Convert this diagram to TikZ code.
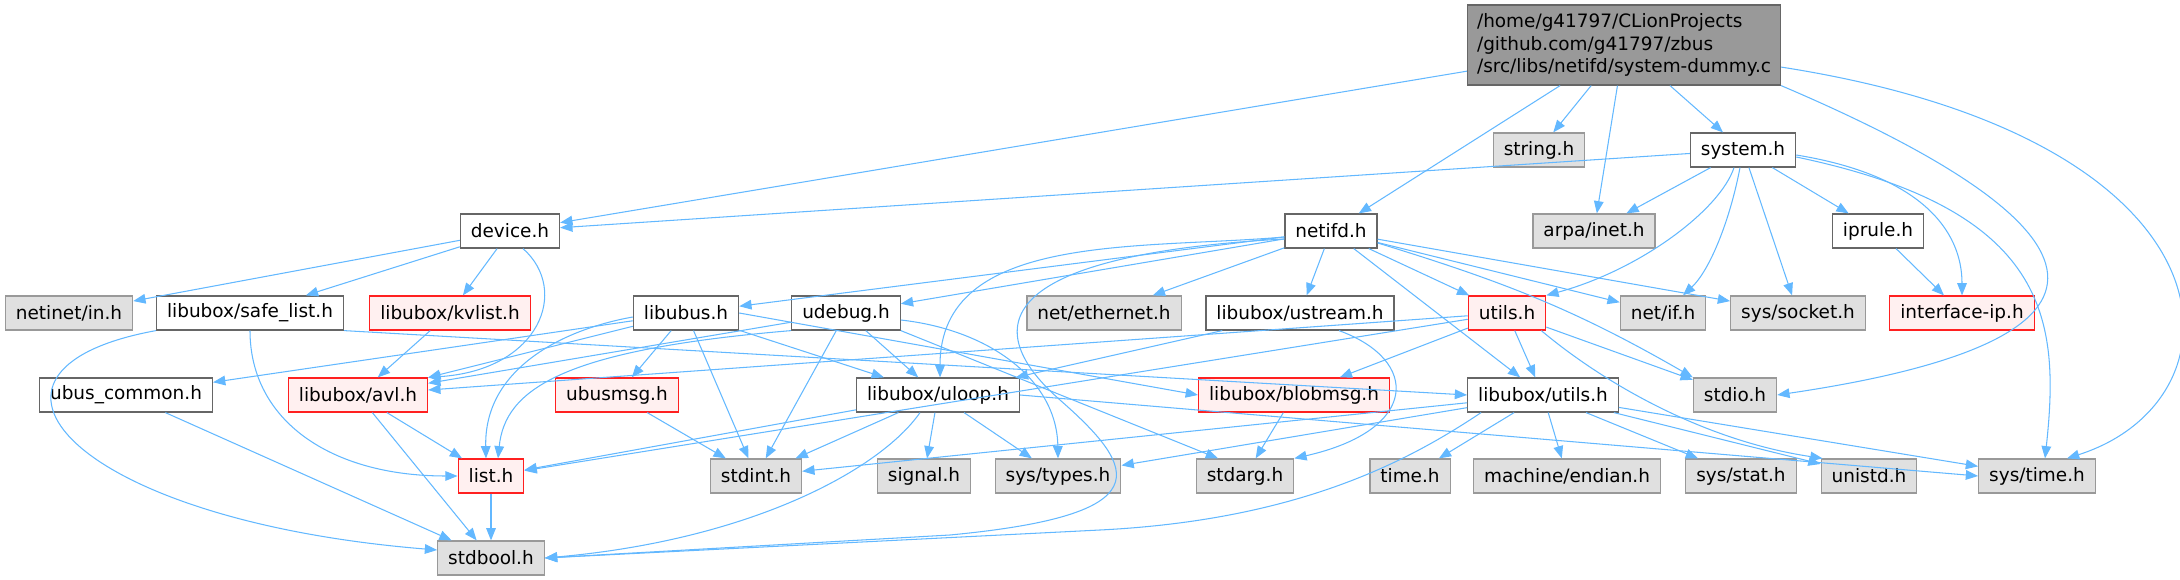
\documentclass[tikz,border=0pt]{standalone}
\usepackage{fontspec}
\setmainfont{DejaVu Sans}
\usetikzlibrary{arrows.meta,calc}

\definecolor{edgeblue}{HTML}{63B8FF}
\definecolor{boxgray}{HTML}{666666}
\definecolor{sysedge}{HTML}{999999}
\definecolor{sysfill}{HTML}{E0E0E0}
\definecolor{rededge}{HTML}{FF2020}
\definecolor{redfill}{HTML}{FFF0F0}
\definecolor{mainfill}{HTML}{999999}

\begin{document}
\begin{tikzpicture}[x=0.02cm,y=-0.02cm,
  font=\fontsize{10.5}{13}\selectfont,
  box/.style={draw=boxgray,fill=white,line width=0.7pt,minimum height=0.68cm,inner xsep=0.21cm,inner ysep=0pt},
  sysbox/.style={box,draw=sysedge,fill=sysfill},
  redbox/.style={box,draw=rededge,fill=redfill},
  mainbox/.style={box,fill=mainfill,align=left,minimum height=1.6cm,inner xsep=0.19cm},
  inc/.style={draw=edgeblue,line width=0.6pt,-{Triangle[length=7pt,width=5.5pt]}}]
  \useasboundingbox (0,0) rectangle (2180,580);

  \node[mainbox] (main) at (1624,45) {/home/g41797/CLionProjects\\/github.com/g41797/zbus\\/src/libs/netifd/system-dummy.c};
  \node[sysbox] (stringh) at (1539,150) {string.h};
  \node[box] (system) at (1743,150) {system.h};
  \node[box] (device) at (510,231) {device.h};
  \node[box] (netifd) at (1331,231) {netifd.h};
  \node[sysbox] (arpainet) at (1594,231) {arpa/inet.h};
  \node[box] (iprule) at (1878,231) {iprule.h};
  \node[sysbox] (netinet) at (69,313) {netinet/in.h};
  \node[box] (safelist) at (250,313) {libubox/safe\_list.h};
  \node[redbox] (kvlist) at (450,313) {libubox/kvlist.h};
  \node[box] (libubus) at (686,313) {libubus.h};
  \node[box] (udebug) at (846,313) {udebug.h};
  \node[sysbox] (neteth) at (1104,313) {net/ethernet.h};
  \node[box] (ustream) at (1300,313) {libubox/ustream.h};
  \node[redbox] (utils) at (1507,313) {utils.h};
  \node[sysbox] (netif) at (1663,313) {net/if.h};
  \node[sysbox] (syssocket) at (1798,313) {sys/socket.h};
  \node[redbox] (ifaceip) at (1962,313) {interface-ip.h};
  \node[box] (ubuscommon) at (126,395) {ubus\_common.h};
  \node[redbox] (avl) at (358,395) {libubox/avl.h};
  \node[redbox] (ubusmsg) at (617,395) {ubusmsg.h};
  \node[box] (uloop) at (938,395) {libubox/uloop.h};
  \node[redbox] (blobmsg) at (1294,395) {libubox/blobmsg.h};
  \node[box] (lutils) at (1543,395) {libubox/utils.h};
  \node[sysbox] (stdio) at (1735,395) {stdio.h};
  \node[redbox] (list) at (491,476) {list.h};
  \node[sysbox] (stdint) at (756,476) {stdint.h};
  \node[sysbox] (signal) at (924,476) {signal.h};
  \node[sysbox] (systypes) at (1058,476) {sys/types.h};
  \node[sysbox] (stdarg) at (1245,476) {stdarg.h};
  \node[sysbox] (timeh) at (1410,476) {time.h};
  \node[sysbox] (endian) at (1567,476) {machine/endian.h};
  \node[sysbox] (sysstat) at (1741,476) {sys/stat.h};
  \node[sysbox] (unistd) at (1869,476) {unistd.h};
  \node[sysbox] (systime) at (2037,476) {sys/time.h};
  \node[sysbox] (stdbool) at (491,558) {stdbool.h};

  \draw[inc] (main) -- (device);
  \draw[inc] (main) -- (netifd);
  \draw[inc] (main) -- (stringh);
  \draw[inc] (main) -- (arpainet);
  \draw[inc] (main) -- (system);
  \draw[inc] (main.south east) .. controls (2120,230) and (2150,340) .. (stdio.east);
  \draw[inc] (main.-8) .. controls (2250,140) and (2250,400) .. ($(systime.north)+(30,0)$);

  \draw[inc] (system) -- (device);
  \draw[inc] (system) -- (arpainet);
  \draw[inc] ($(system.south)+(-9,0)$) .. controls (1720,210) and (1640,270) .. (utils.north east);
  \draw[inc] ($(system.south)+(-3,0)$) .. controls (1730,220) and (1710,270) .. ($(netif.north)+(20,0)$);
  \draw[inc] (system) -- (syssocket);
  \draw[inc] (system) -- (iprule);
  \draw[inc] ($(system.east)+(0,5)$) .. controls (1920,175) and (1962,230) .. (ifaceip.north);
  \draw[inc] ($(system.east)+(0,7)$) .. controls (2050,210) and (2060,320) .. ($(systime.north)+(8,0)$);
  \draw[inc] (iprule) -- (ifaceip);

  \draw[inc] (netifd) -- (libubus);
  \draw[inc] (netifd) -- (udebug);
  \draw[inc] (netifd) -- (neteth);
  \draw[inc] (netifd) -- (ustream);
  \draw[inc] (netifd) -- (utils);
  \draw[inc] (netifd) -- (lutils);
  \draw[inc] (netifd) -- (netif);
  \draw[inc] (netifd) -- (syssocket);
  \draw[inc] ($(netifd.east)+(0,12)$) to[out=-17,in=150] (stdio.north west);
  \draw[inc] ($(netifd.west)+(0,6)$) to[out=185,in=90] ($(uloop.north)+(2,0)$);
  \draw[inc] ($(netifd.west)+(0,8)$) .. controls (990,255) and (980,330) .. (1060,400)
    .. controls (1140,470) and (1160,515) .. (950,535) -- (stdbool.east);

  \draw[inc] (device) -- (netinet);
  \draw[inc] (device) -- (safelist);
  \draw[inc] (device) -- (kvlist);
  \draw[inc] ($(device.south)+(13,0)$) .. controls (570,290) and (540,370) .. (avl.north east);

  \draw[inc] ($(safelist.south)+(0,0)$) .. controls (250,420) and (330,476) .. (list.west);
  \draw[inc] (safelist.south west) .. controls (-60,370) and (70,520) .. ($(stdbool.west)+(0,-8)$);
  \draw[inc] (safelist.south east) -- (lutils.west);
  \draw[inc] (kvlist) -- (avl);

  \draw[inc] (libubus) -- (ubuscommon);
  \draw[inc] (libubus) -- (avl);
  \draw[inc] ($(libubus.west)+(0,4)$) .. controls (560,330) and (484,370) .. ($(list.north)+(-5,0)$);
  \draw[inc] (libubus) -- (ubusmsg);
  \draw[inc] (libubus) -- (stdint);
  \draw[inc] (libubus) -- (uloop);
  \draw[inc] (libubus.east) -- (blobmsg.west);

  \draw[inc] (udebug) -- (avl);
  \draw[inc] (udebug.south west) .. controls (560,350) and (505,390) .. ($(list.north)+(7,0)$);
  \draw[inc] (udebug) -- (stdint);
  \draw[inc] (udebug) -- (uloop);
  \draw[inc] ($(udebug.east)+(0,7)$) .. controls (990,330) and (1057,380) .. (systypes.north);
  \draw[inc] (udebug.south east) -- ($(stdarg.north)+(-27,0)$);

  \draw[inc] (ubuscommon) -- (stdbool);
  \draw[inc] (avl) -- (list);
  \draw[inc] (avl) -- (stdbool);
  \draw[inc] (ubusmsg) -- (stdint);
  \draw[inc] (list) -- (stdbool);

  \draw[inc] (uloop) -- (list);
  \draw[inc] (uloop) -- (stdint);
  \draw[inc] (uloop) -- (signal);
  \draw[inc] (uloop) -- (systypes);
  \draw[inc] ($(uloop.south)+(-18,0)$) .. controls (880,470) and (750,540) .. (stdbool.east);
  \draw[inc] (uloop.east) -- (systime.west);

  \draw[inc] (ustream) -- (uloop);
  \draw[inc] ($(ustream.south)+(39,0)$) .. controls (1420,360) and (1420,430) .. (stdarg.north east);

  \draw[inc] (utils) -- (avl);
  \draw[inc] (utils) -- (list);
  \draw[inc] (utils) -- (blobmsg);
  \draw[inc] (utils) -- (lutils);
  \draw[inc] (utils) -- (stdio);
  \draw[inc] ($(utils.south east)+(-5,0)$) .. controls (1600,380) and (1700,440) .. ($(unistd.north west)+(2,0)$);

  \draw[inc] (blobmsg) -- (stdarg);

  \draw[inc] (lutils) -- (stdint);
  \draw[inc] (lutils) -- (systypes);
  \draw[inc] ($(lutils.south west)+(14,0)$) .. controls (1410,460) and (1300,520) .. (1100,530) -- (stdbool.east);
  \draw[inc] (lutils) -- (timeh);
  \draw[inc] (lutils) -- (endian);
  \draw[inc] (lutils) -- (sysstat);
  \draw[inc] (lutils) -- (unistd);
  \draw[inc] (lutils) -- (systime);
\end{tikzpicture}
\end{document}
